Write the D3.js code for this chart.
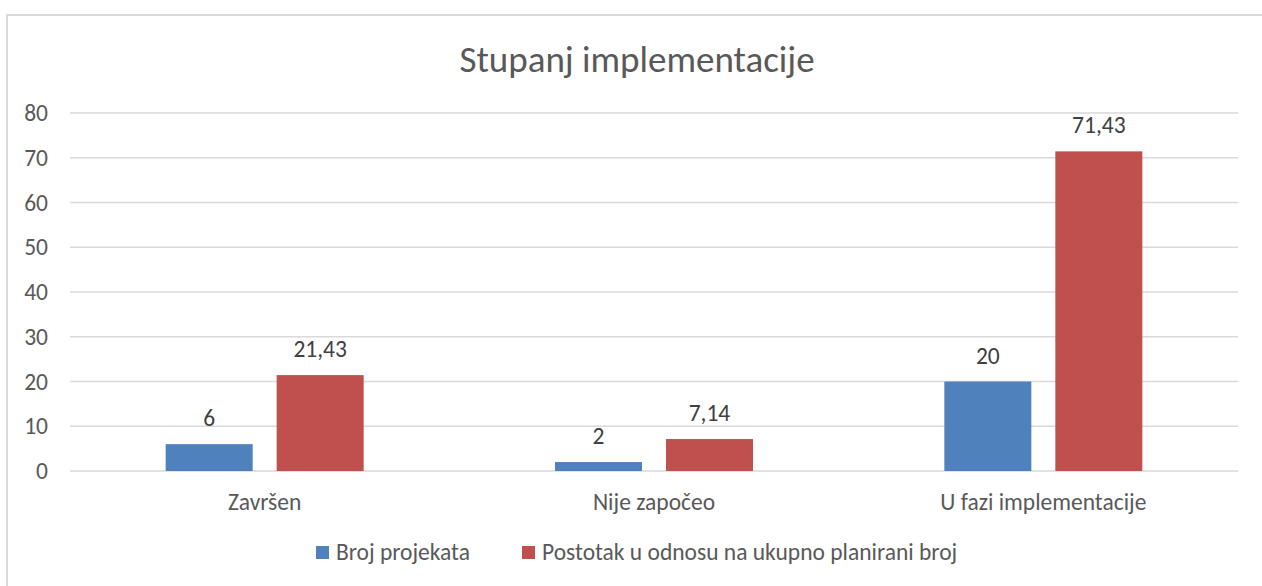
<!DOCTYPE html>
<html>
<head>
<meta charset="utf-8">
<script src="https://cdn.jsdelivr.net/npm/d3@7"></script>
<style>
  body { margin: 0; background: #fff; }
  text { font-family: Carlito, Calibri, Lato, "Open Sans", sans-serif; }
</style>
</head>
<body>
<div id="chart"></div>
<script>
// data
var categories = ["Završen", "Nije započeo", "U fazi implementacije"];
var seriesNames = ["Broj projekata", "Postotak u odnosu na ukupno planirani broj"];
var brojProjekata = [6, 2, 20];
var postotak = [21.43, 7.14, 71.43];
var yTicks = [0, 10, 20, 30, 40, 50, 60, 70, 80];
var colors = ["#4f81bd", "#c0504d"];

var fullWidth = 1262, fullHeight = 586;
var margin = {top: 113, right: 24, bottom: 115, left: 70},
    width = fullWidth - margin.left - margin.right,
    height = fullHeight - margin.top - margin.bottom;
var fontSize = 23.5;

var svg = d3.select("#chart")
  .append("svg")
  .attr("width", fullWidth)
  .attr("height", fullHeight);

// outer frame
svg.append("rect")
  .attr("x", 7).attr("y", 15)
  .attr("width", fullWidth).attr("height", fullHeight)
  .attr("fill", "none")
  .attr("stroke", "#d9d9d9")
  .attr("stroke-width", 2);

svg.append("text")
  .attr("x", 637).attr("y", 72)
  .attr("text-anchor", "middle")
  .attr("font-size", 37)
  .attr("fill", "#595959")
  .text("Stupanj implementacije");

var g = svg.append("g")
  .attr("transform", "translate(" + margin.left + "," + margin.top + ")");

var x0 = d3.scaleBand().domain(categories).range([0, width]).padding(0);
var x1 = d3.scaleBand().domain(seriesNames).range([0, 198]).paddingInner(0.216);
var y = d3.scaleLinear().domain([0, 80]).range([height, 0]);

// gridlines
g.selectAll(".grid")
  .data(yTicks)
  .enter().append("line")
  .attr("class", "grid")
  .attr("x1", 0).attr("x2", width)
  .attr("y1", function(d) { return y(d); })
  .attr("y2", function(d) { return y(d); })
  .attr("stroke", "#d9d9d9")
  .attr("stroke-width", 1.5);

// y axis labels
var yAxis = g.append("g")
  .call(d3.axisLeft(y).tickValues(yTicks).tickSize(0).tickPadding(22));
yAxis.select(".domain").remove();
yAxis.selectAll("text")
  .attr("font-size", fontSize)
  .attr("fill", "#595959")
  .style("font-family", "Carlito, Calibri, Lato, sans-serif");

// x axis labels
var xAxis = g.append("g")
  .attr("transform", "translate(0," + height + ")")
  .call(d3.axisBottom(x0).tickSize(0).tickPadding(22));
xAxis.select(".domain").remove();
xAxis.selectAll("text")
  .attr("font-size", fontSize)
  .attr("fill", "#595959")
  .style("font-family", "Carlito, Calibri, Lato, sans-serif");

var rows = categories.map(function(c, i) {
  return {cat: c, vals: [
    {name: seriesNames[0], value: brojProjekata[i], idx: 0},
    {name: seriesNames[1], value: postotak[i], idx: 1}
  ]};
});

var groupOffset = (x0.bandwidth() - 198) / 2;

var groups = g.selectAll(".grp")
  .data(rows)
  .enter().append("g")
  .attr("class", "grp")
  .attr("transform", function(d) { return "translate(" + (x0(d.cat) + groupOffset) + ",0)"; });

groups.selectAll("rect")
  .data(function(d) { return d.vals; })
  .enter().append("rect")
  .attr("x", function(d) { return x1(d.name); })
  .attr("width", x1.bandwidth())
  .attr("y", function(d) { return y(d.value); })
  .attr("height", function(d) { return height - y(d.value); })
  .attr("fill", function(d) { return colors[d.idx]; });

groups.selectAll(".lbl")
  .data(function(d) { return d.vals; })
  .enter().append("text")
  .attr("class", "lbl")
  .attr("x", function(d) { return x1(d.name) + x1.bandwidth() / 2; })
  .attr("y", function(d) { return y(d.value) - 18; })
  .attr("text-anchor", "middle")
  .attr("font-size", fontSize)
  .attr("fill", "#404040")
  .text(function(d) { return String(d.value).replace(".", ","); });

// legend
var legendX = [316, 522];
var legend = svg.selectAll(".legend")
  .data(seriesNames)
  .enter().append("g")
  .attr("class", "legend")
  .attr("transform", function(d, i) { return "translate(" + legendX[i] + ",546)"; });

legend.append("rect")
  .attr("width", 13).attr("height", 13)
  .attr("fill", function(d, i) { return colors[i]; });

legend.append("text")
  .attr("x", 20).attr("y", 14)
  .attr("font-size", fontSize)
  .attr("fill", "#595959")
  .text(function(d) { return d; });
</script>
</body>
</html>
